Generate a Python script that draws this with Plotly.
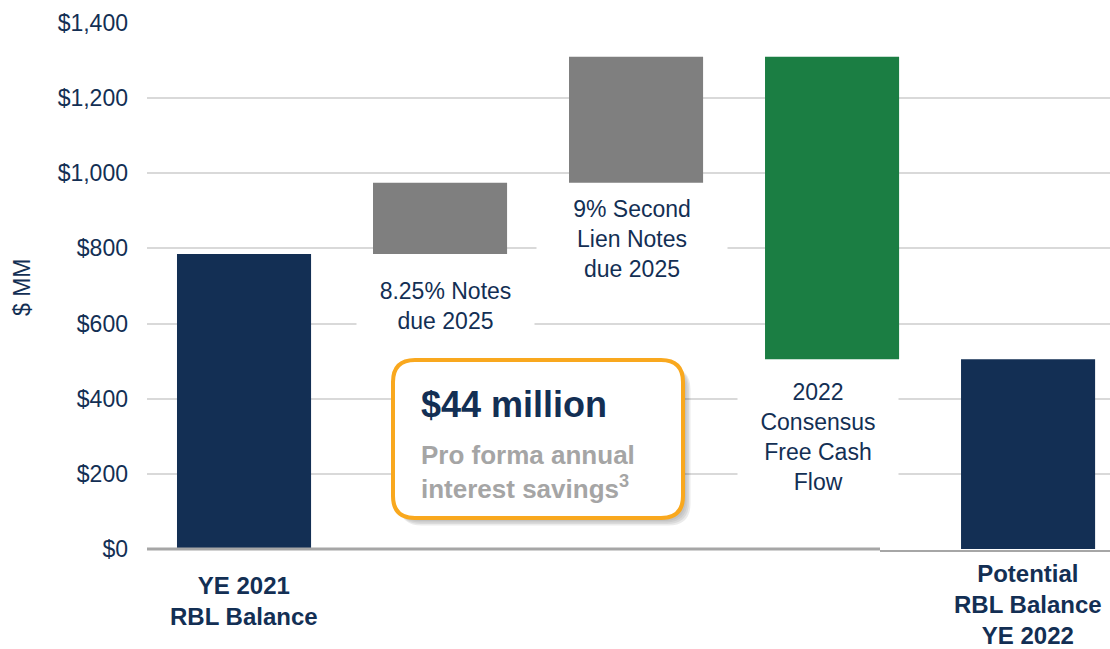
import plotly.graph_objects as go

# ---- data ----
categories = ["YE 2021 RBL Balance", "8.25% Notes due 2025", "9% Second Lien Notes due 2025",
              "2022 Consensus Free Cash Flow", "Potential RBL Balance YE 2022"]
measures = ["absolute", "relative", "relative", "relative", "total"]
values = [785, 190, 335, -805, 0]
y_ticks = [0, 200, 400, 600, 800, 1000, 1200, 1400]
y_tick_labels = ["$0", "$200", "$400", "$600", "$800", "$1,000", "$1,200", "$1,400"]

NAVY = "#132F54"
GRAY = "#7F7F7F"
GREEN = "#1B7E43"
ORANGE = "#F9A81E"
FONT = "Liberation Sans, Arial, sans-serif"

# plot area in pixels
L, R, T, B = 147, 1110, 23, 549
W_PX, H_PX = R - L, B - T


def px(x):
    return (x - L) / W_PX


def py(y):
    return (B - y) / H_PX


def rounded_rect(x0, y0, x1, y1, r):
    rx, ry = r / W_PX, r / H_PX
    X0, X1 = px(x0), px(x1)
    Y0, Y1 = py(y0), py(y1)  # Y0 top (larger), Y1 bottom
    return (f"M {X0+rx},{Y0} L {X1-rx},{Y0} Q {X1},{Y0} {X1},{Y0-ry} "
            f"L {X1},{Y1+ry} Q {X1},{Y1} {X1-rx},{Y1} "
            f"L {X0+rx},{Y1} Q {X0},{Y1} {X0},{Y1+ry} "
            f"L {X0},{Y0-ry} Q {X0},{Y0} {X0+rx},{Y0} Z")


xs = list(range(len(categories)))

fig = go.Figure(go.Waterfall(
    x=xs, y=values, measure=measures,
    width=0.684,
    increasing=dict(marker=dict(color=GRAY)),
    decreasing=dict(marker=dict(color=GREEN)),
    totals=dict(marker=dict(color=NAVY)),
    connector=dict(visible=False),
    hoverinfo="skip",
))

shapes = []
# shadow layers
for i, a in enumerate([0.05, 0.06, 0.07, 0.08]):
    d = 3 + i * 1.5
    shapes.append(dict(type="path", xref="paper", yref="paper",
                       path=rounded_rect(393 + d + 2 - i, 360 + d + 3 - i, 683 + d, 518 + d, 22),
                       fillcolor=f"rgba(0,0,0,{a})", line=dict(width=0), layer="above"))
shapes.append(dict(type="path", xref="paper", yref="paper",
                   path=rounded_rect(393, 360, 683, 518, 22),
                   fillcolor="white", line=dict(color=ORANGE, width=4), layer="above"))
# baseline
shapes.append(dict(type="line", xref="paper", yref="paper", x0=0, x1=px(880), y0=0, y1=0,
                   line=dict(color="#A6A6A6", width=3), layer="above"))
shapes.append(dict(type="line", xref="paper", yref="paper", x0=px(880), x1=1, y0=py(551), y1=py(551),
                   line=dict(color="#A6A6A6", width=2), layer="above"))

annotations = []
# in-plot labels with white background
label_specs = [
    (1.03, 647, "8.25% Notes<br>due 2025", 177, 70),
    (1.98, 825, "9% Second<br>Lien Notes<br>due 2025", 190, 96),
    (2.93, 297, "2022<br>Consensus<br>Free Cash<br>Flow", 160, 120),
]
for x, y, t, w, h in label_specs:
    annotations.append(dict(x=x, y=y, xref="x", yref="y", text=t, showarrow=False,
                            xanchor="center", yanchor="middle", width=w, height=h,
                            bgcolor="white", borderpad=0, align="center",
                            font=dict(family=FONT, size=23, color=NAVY)))

# category labels
annotations.append(dict(x=0, y=py(570), xref="x", yref="paper", yanchor="top",
                        text="<b>YE 2021<br>RBL Balance</b>", showarrow=False,
                        font=dict(family=FONT, size=24, color=NAVY)))
annotations.append(dict(x=4, y=py(558), xref="x", yref="paper", yanchor="top",
                        text="<b>Potential<br>RBL Balance<br>YE 2022</b>", showarrow=False,
                        font=dict(family=FONT, size=24, color=NAVY)))
# y-axis title
annotations.append(dict(x=px(22), y=py(287), xref="paper", yref="paper", text="$ MM",
                        textangle=-90, showarrow=False, xanchor="center", yanchor="middle",
                        font=dict(family=FONT, size=23, color=NAVY)))
# callout text
annotations.append(dict(x=px(419), y=py(404), xref="paper", yref="paper", text="<b>$44 million</b>",
                        showarrow=False, xanchor="left", yanchor="middle",
                        font=dict(family=FONT, size=36, color=NAVY)))
annotations.append(dict(x=px(419), y=py(472), xref="paper", yref="paper",
                        text="<b>Pro forma annual<br>interest savings<sup>3</sup></b>",
                        showarrow=False, xanchor="left", yanchor="middle", align="left",
                        font=dict(family=FONT, size=26, color="#A5A5A5")))

fig.update_layout(
    width=1110, height=649,
    margin=dict(l=L, r=1110 - R, t=T, b=649 - B),
    paper_bgcolor="white", plot_bgcolor="white",
    showlegend=False,
    shapes=shapes, annotations=annotations,
    xaxis=dict(range=[-0.495, 4.418], showticklabels=False, showgrid=False,
               zeroline=False, showline=False, fixedrange=True),
    yaxis=dict(range=[0, 1400], tickmode="array", tickvals=y_ticks, ticktext=y_tick_labels,
               showgrid=True, gridcolor="#D9D9D9", gridwidth=1.5, zeroline=False,
               showline=False, ticklabelstandoff=18,
               tickfont=dict(family=FONT, size=23, color=NAVY), fixedrange=True),
)

fig.write_html("out.html")
